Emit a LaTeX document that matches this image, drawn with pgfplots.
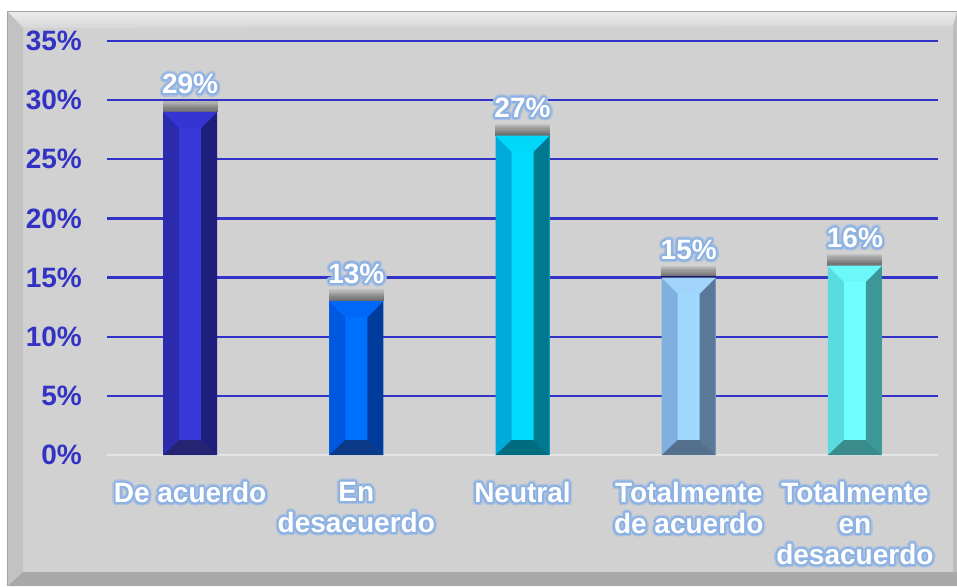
\documentclass[border=0pt]{standalone}
\usepackage{fontspec}
\setmainfont{Liberation Sans}
\usepackage{pgfplots}
\pgfplotsset{compat=1.18}
\definecolor{bg}{HTML}{D1D1D1}
\definecolor{gridc}{HTML}{3333C8}
\definecolor{tickc}{HTML}{3232C4}
\definecolor{glowa}{HTML}{A9C0DE}
\definecolor{glowb}{HTML}{8CB1E2}
\definecolor{basec}{HTML}{E4E4E4}
% bar colours: centre, left, right, top, bottom
\definecolor{aC}{HTML}{3838D8}\definecolor{aL}{HTML}{2B2BAC}\definecolor{aR}{HTML}{1E1E7C}\definecolor{aT}{HTML}{3535D4}\definecolor{aB}{HTML}{242472}
\definecolor{bC}{HTML}{0070FF}\definecolor{bL}{HTML}{0058E0}\definecolor{bR}{HTML}{003C9C}\definecolor{bT}{HTML}{0068F8}\definecolor{bB}{HTML}{0A3A88}
\definecolor{cC}{HTML}{00DCFF}\definecolor{cL}{HTML}{00AAD8}\definecolor{cR}{HTML}{007890}\definecolor{cT}{HTML}{00D8FA}\definecolor{cB}{HTML}{006C80}
\definecolor{dC}{HTML}{A0D8FF}\definecolor{dL}{HTML}{80B0E0}\definecolor{dR}{HTML}{5A7898}\definecolor{dT}{HTML}{A0D4FA}\definecolor{dB}{HTML}{54708C}
\definecolor{eC}{HTML}{70FFFF}\definecolor{eL}{HTML}{58DCE0}\definecolor{eR}{HTML}{3C9898}\definecolor{eT}{HTML}{6CF8F8}\definecolor{eB}{HTML}{3A8C8C}

\newsavebox\glbox
\newcommand\gl[1]{\setbox\glbox\hbox{#1}\leavevmode
 \foreach \dx/\dy in {3.2/0,2.8/1.6,1.6/2.8,0/3.2,-1.6/2.8,-2.8/1.6,-3.2/0,-2.8/-1.6,-1.6/-2.8,0/-3.2,1.6/-2.8,2.8/-1.6}{\rlap{\hspace*{\dx pt}\raisebox{\dy pt}{\textcolor{glowa}{\copy\glbox}}}}%
 \foreach \dx/\dy in {1.8/0,1.56/0.9,0.9/1.56,0/1.8,-0.9/1.56,-1.56/0.9,-1.8/0,-1.56/-0.9,-0.9/-1.56,0/-1.8,0.9/-1.56,1.56/-0.9}{\rlap{\hspace*{\dx pt}\raisebox{\dy pt}{\textcolor{glowb}{\copy\glbox}}}}%
 \textcolor{white}{\copy\glbox}}

\newcommand\bigfont{\fontsize{28}{31}\selectfont\bfseries}

% bevel decoration drawn as a plot mark at the bar top; height from the data value
\newdimen\bevh \newdimen\bevhb
\def\bv{a}
\pgfdeclareplotmark{bev}{%
  \pgfmathsetlength\bevh{\bevval*11.828571}%
  \bevhb=\bevh \advance\bevhb by -15pt
  \foreach \s in {1.2,2.4,3.6,4.8,6,7.2,8.4,9.6,10.8,12}{%
    \begin{pgfscope}\pgfsetfillopacity{0.06}\pgfsetfillcolor{black}%
    \pgfpathrectanglecorners{\pgfpoint{-27.5pt}{0pt}}{\pgfpoint{27.5pt}{\s pt}}\pgfusepath{fill}\end{pgfscope}}%
  \begin{pgfscope}\edef\tmp{\bv L}\pgfsetfillcolor{\tmp}%
    \pgfpathmoveto{\pgfpoint{-27pt}{-\bevh}}\pgfpathlineto{\pgfpoint{-11pt}{-\bevhb}}%
    \pgfpathlineto{\pgfpoint{-11pt}{-16pt}}\pgfpathlineto{\pgfpoint{-27pt}{0pt}}\pgfpathclose\pgfusepath{fill}\end{pgfscope}%
  \begin{pgfscope}\edef\tmp{\bv R}\pgfsetfillcolor{\tmp}%
    \pgfpathmoveto{\pgfpoint{27pt}{-\bevh}}\pgfpathlineto{\pgfpoint{11pt}{-\bevhb}}%
    \pgfpathlineto{\pgfpoint{11pt}{-16pt}}\pgfpathlineto{\pgfpoint{27pt}{0pt}}\pgfpathclose\pgfusepath{fill}\end{pgfscope}%
  \begin{pgfscope}\edef\tmp{\bv T}\pgfsetfillcolor{\tmp}%
    \pgfpathmoveto{\pgfpoint{-27pt}{0pt}}\pgfpathlineto{\pgfpoint{-11pt}{-16pt}}%
    \pgfpathlineto{\pgfpoint{11pt}{-16pt}}\pgfpathlineto{\pgfpoint{27pt}{0pt}}\pgfpathclose\pgfusepath{fill}\end{pgfscope}%
  \begin{pgfscope}\edef\tmp{\bv B}\pgfsetfillcolor{\tmp}%
    \pgfpathmoveto{\pgfpoint{-27pt}{-\bevh}}\pgfpathlineto{\pgfpoint{-11pt}{-\bevhb}}%
    \pgfpathlineto{\pgfpoint{11pt}{-\bevhb}}\pgfpathlineto{\pgfpoint{27pt}{-\bevh}}\pgfpathclose\pgfusepath{fill}\end{pgfscope}%
}

\begin{document}
\begin{tikzpicture}
\fill[white] (0,0) rectangle (957pt,586pt);
\fill[bg] (7pt,0) rectangle (957pt,575pt);
\shade[top color=black!8, bottom color=black!16] (8pt,574pt) -- (957pt,574pt) -- (953pt,560pt) -- (23pt,558pt) -- cycle;
\fill[black!24] (8pt,574pt) -- (23pt,558pt) -- (23pt,14pt) -- (8pt,0pt) -- cycle;
\fill[black!34] (8pt,0pt) -- (23pt,14pt) -- (957pt,14pt) -- (957pt,0pt) -- cycle;
\fill[black!26] (953pt,14pt) -- (953pt,560pt) -- (957pt,574pt) -- (957pt,14pt) -- cycle;
\draw[black!36, line width=1pt] (7.5pt,0pt) -- (7.5pt,574.5pt) -- (957pt,574.5pt);

\begin{axis}[
 at={(107pt,131pt)}, anchor=south west,
 scale only axis, width=831pt, height=414pt,
 xmin=-0.5, xmax=4.5, ymin=0, ymax=35,
 axis line style={draw=none}, tick style={draw=none},
 ytick={0,5,...,35}, xtick={0,1,2,3,4},
 xticklabels={{\gl{De acuerdo}},{\gl{En}\\\gl{desacuerdo}},{\gl{Neutral}},{\gl{Totalmente}\\\gl{de acuerdo}},{\gl{Totalmente}\\\gl{en}\\\gl{desacuerdo}}},
 ymajorgrids, grid style={gridc, line width=2.2pt},
 yticklabel={\pgfmathprintnumber{\tick}\%},
 /pgf/number format/assume math mode=true,
 yticklabel style={anchor=east, inner sep=0pt, xshift=-25pt, text=tickc, font=\bigfont},
 xticklabel style={anchor=north, inner sep=0pt, yshift=-24pt, align=center, font=\bigfont},
 bar width=54pt,
 clip=false,
 mainbar/.style={ybar, bar shift=0pt, draw=none, fill=#1,
   nodes near coords={\gl{\pgfmathprintnumber{\pgfplotspointmeta}\%}},
   nodes near coords style={anchor=base, inner sep=0pt, yshift=18pt, font=\bigfont}},
 bevmark/.style={only marks, scatter, mark=bev, /utils/exec={\def\bv{#1}},
   visualization depends on={rawy \as \bevval}},
]
\draw[basec, line width=2.4pt] (axis cs:-0.5,0) -- (axis cs:4.5,0);
\addplot[mainbar=aC] coordinates {(0,29)};
\addplot[mainbar=bC] coordinates {(1,13)};
\addplot[mainbar=cC] coordinates {(2,27)};
\addplot[mainbar=dC] coordinates {(3,15)};
\addplot[mainbar=eC] coordinates {(4,16)};
\addplot[bevmark=a] coordinates {(0,29)};
\addplot[bevmark=b] coordinates {(1,13)};
\addplot[bevmark=c] coordinates {(2,27)};
\addplot[bevmark=d] coordinates {(3,15)};
\addplot[bevmark=e] coordinates {(4,16)};
\end{axis}
\pgfresetboundingbox
\path (0,0) rectangle (957pt,586pt);
\end{tikzpicture}
\end{document}
